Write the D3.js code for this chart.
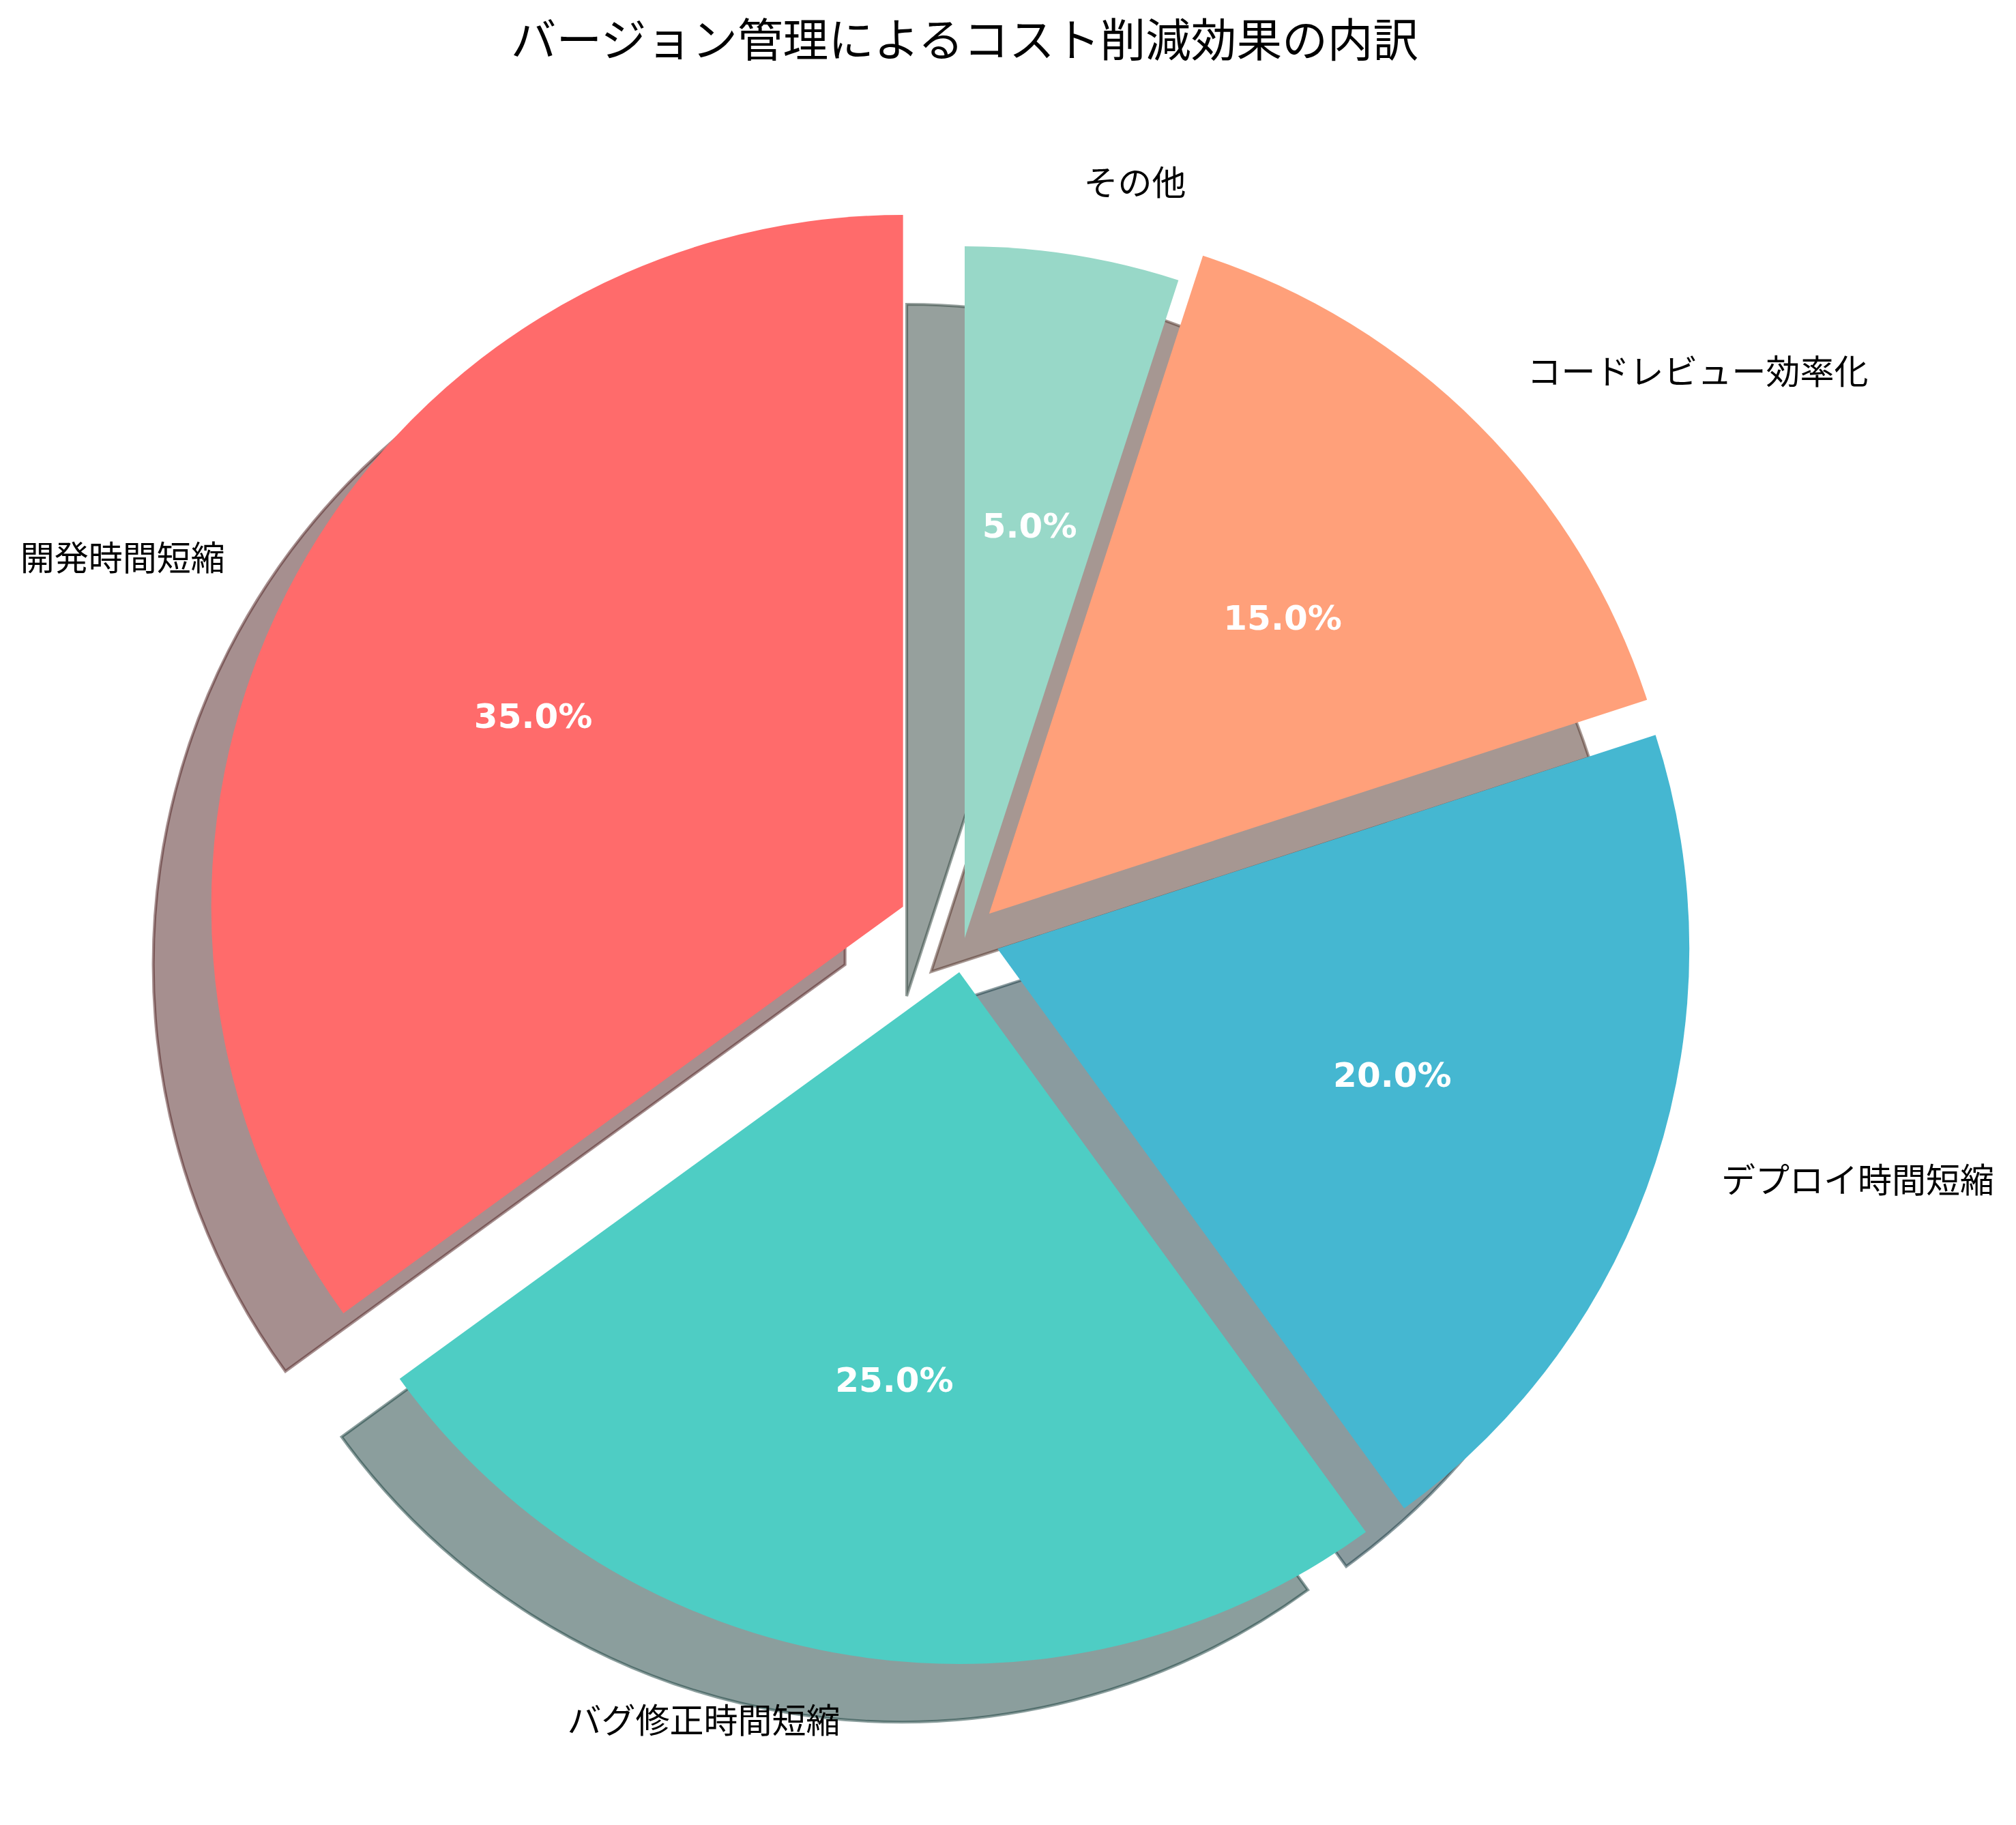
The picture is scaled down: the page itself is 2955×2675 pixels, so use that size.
<!DOCTYPE html>
<html>
<head>
<meta charset="utf-8">
<script src="https://cdn.jsdelivr.net/npm/d3@7"></script>
<style>
  html, body { margin: 0; padding: 0; background: #ffffff; }
  svg { display: block; }
</style>
</head>
<body>
<div id="chart"></div>
<script>
// ---- data ----
const titleText = "バージョン管理によるコスト削減効果の内訳";
const categories = ["開発時間短縮", "バグ修正時間短縮", "デプロイ時間短縮", "コードレビュー効率化", "その他"];
const values = [35, 25, 20, 15, 5];
const explode = [0.1, 0.05, 0.05, 0.05, 0];
const colors = ["#FF6B6B", "#4ECDC4", "#45B7D1", "#FFA07A", "#98D8C8"];

// ---- layout ----
const W = 2955, H = 2675;
const cx = 1414, cy = 1375;
const rScale = d3.scaleLinear().domain([0, 1]).range([0, 1014]);
const shadowDx = -85, shadowDy = 85;
const jpFont = "'Noto Sans CJK JP', 'Noto Sans CJK SC', sans-serif";

const svg = d3.select("#chart").append("svg")
  .attr("width", W).attr("height", H)
  .attr("viewBox", `0 0 ${W} ${H}`);

svg.append("rect").attr("width", W).attr("height", H).attr("fill", "#ffffff");

const data = categories.map((c, i) => ({ cat: c, value: values[i], explode: explode[i], color: colors[i] }));
const total = d3.sum(values);

const pie = d3.pie().value(d => d.value).sort(null)
  .startAngle(0).endAngle(-2 * Math.PI);
const arcs = pie(data);

const arc = d3.arc().innerRadius(0).outerRadius(rScale(1));

function mid(a) { return (a.startAngle + a.endAngle) / 2; }
function offset(a, dist) {
  const m = mid(a);
  return [Math.sin(m) * rScale(dist), -Math.cos(m) * rScale(dist)];
}
function darken(c) {
  const rgb = d3.rgb(c);
  return d3.rgb(rgb.r * 0.3, rgb.g * 0.3, rgb.b * 0.3).toString();
}

const g = svg.append("g").attr("transform", `translate(${cx},${cy})`);

// shadows (drawn under all wedges)
g.append("g").selectAll("path.shadow").data(arcs).join("path")
  .attr("class", "shadow")
  .attr("d", arc)
  .attr("transform", d => {
    const [ox, oy] = offset(d, d.data.explode);
    return `translate(${ox + shadowDx},${oy + shadowDy})`;
  })
  .attr("fill", d => darken(d.data.color))
  .attr("fill-opacity", 0.5)
  .attr("stroke", d => darken(d.data.color))
  .attr("stroke-opacity", 0.5)
  .attr("stroke-width", 4.17)
  .attr("stroke-linejoin", "miter");

// wedges
g.append("g").selectAll("path.wedge").data(arcs).join("path")
  .attr("class", "wedge")
  .attr("d", arc)
  .attr("transform", d => {
    const [ox, oy] = offset(d, d.data.explode);
    return `translate(${ox},${oy})`;
  })
  .attr("fill", d => d.data.color);

// category labels
g.append("g").selectAll("text.label").data(arcs).join("text")
  .attr("class", "label")
  .attr("x", d => offset(d, d.data.explode + 1.1)[0])
  .attr("y", d => offset(d, d.data.explode + 1.1)[1] - 9)
  .attr("text-anchor", d => Math.sin(mid(d)) > 0 ? "start" : "end")
  .attr("dominant-baseline", "central")
  .attr("font-family", jpFont)
  .attr("font-size", 50)
  .attr("fill", "#000000")
  .text(d => d.data.cat);

// percentage labels
const fmt = d3.format(".1f");
g.append("g").selectAll("text.pct").data(arcs).join("text")
  .attr("class", "pct")
  .attr("x", d => offset(d, d.data.explode + 0.6)[0])
  .attr("y", d => offset(d, d.data.explode + 0.6)[1] - 3)
  .attr("text-anchor", "middle")
  .attr("dominant-baseline", "central")
  .attr("font-family", "'DejaVu Sans', sans-serif")
  .attr("font-weight", "bold")
  .attr("font-size", 50)
  .attr("fill", "#ffffff")
  .text(d => fmt(d.data.value / total * 100) + "%");

// title
svg.append("text")
  .attr("x", cx)
  .attr("y", 54)
  .attr("text-anchor", "middle")
  .attr("dominant-baseline", "central")
  .attr("font-family", jpFont)
  .attr("font-size", 66.7)
  .attr("fill", "#000000")
  .text(titleText);
</script>
</body>
</html>
